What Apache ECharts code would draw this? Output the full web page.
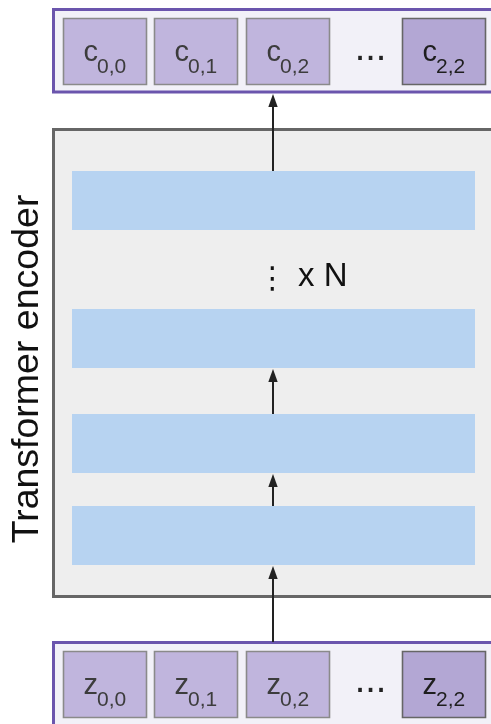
<!DOCTYPE html>
<html><head><meta charset="utf-8">
<script src="https://cdn.jsdelivr.net/npm/echarts@6/dist/echarts.min.js"></script>
<style>html,body{margin:0;padding:0;background:#fff}#c{width:491px;height:724px}</style>
</head><body><div id="c"></div>
<script>
// ---- diagram content ----
const outputLetter = 'c';
const inputLetter = 'z';
const tokenSubscripts = ['0,0', '0,1', '0,2', '2,2'];
const tokenIsLast = [false, false, false, true];
const ellipsisText = '...';
const encoderTitle = 'Transformer encoder';
const repeatLabel = 'x N';
const layerCount = 4;

// ---- layout (diagram coordinate space = pixels) ----
const W = 491, H = 724;
const tokenLeft = [63, 154, 246, 402];
const tokenW = 84, tokenH = 67;
const outRowTop = 18, inRowTop = 651;
const layerTop = [171, 309, 414, 506];
const layerL = 72, layerR = 475, layerH = 59;
const arrowX = 273;
const arrows = [[642, 566], [506, 474], [414, 369], [171, 94]];
const frames = [
  {r: [53.5, 9.5, 520, 92], stroke: '#6b55ad', fill: '#f2f1f8', lw: 3},
  {r: [53.5, 642.5, 520, 760], stroke: '#6b55ad', fill: '#f2f1f8', lw: 3},
  {r: [53.5, 129.5, 520, 596.5], stroke: '#666666', fill: '#eeeeee', lw: 3}
];
const FONT = '"Liberation Sans", Arial, Helvetica, sans-serif';

const chart = echarts.init(document.getElementById('c'), null, {renderer: 'canvas'});

function rectFrom(api, x0, y0, x1, y1) {
  const p0 = api.coord([x0, y0]), p1 = api.coord([x1, y1]);
  return {x: p0[0], y: p0[1], width: p1[0] - p0[0], height: p1[1] - p0[1]};
}

// token cells data: [left, top, subscriptIndex, rowIsOutput]
const tokenData = [];
[outRowTop, inRowTop].forEach((top, r) => {
  tokenSubscripts.forEach((s, i) => tokenData.push([tokenLeft[i], top, i, r === 0 ? 1 : 0]));
});

const option = {
  animation: false,
  grid: {left: 0, right: 0, top: 0, bottom: 0},
  xAxis: {type: 'value', min: 0, max: W, show: false},
  yAxis: {type: 'value', min: 0, max: H, inverse: true, show: false},
  series: [
    { // frames
      type: 'custom', clip: false, silent: true,
      data: frames.map(f => f.r),
      renderItem: (params, api) => {
        const f = frames[params.dataIndex];
        return {type: 'rect', shape: rectFrom(api, f.r[0], f.r[1], f.r[2], f.r[3]),
          style: {fill: f.fill, stroke: f.stroke, lineWidth: f.lw}};
      }
    },
    { // encoder layers
      type: 'custom', clip: false, silent: true,
      data: layerTop.slice(0, layerCount).map(t => [layerL, t, layerR, t + layerH]),
      renderItem: (params, api) => ({
        type: 'rect',
        shape: rectFrom(api, api.value(0), api.value(1), api.value(2), api.value(3)),
        style: {fill: '#b7d3f1'}
      })
    },
    { // token cells
      type: 'custom', clip: false, silent: true,
      data: tokenData,
      renderItem: (params, api) => {
        const left = api.value(0), top = api.value(1), idx = api.value(2), isOut = api.value(3);
        const last = tokenIsLast[idx];
        const rect = rectFrom(api, left + 0.5, top + 0.5, left + tokenW - 0.5, top + tokenH - 0.5);
        const pL = api.coord([left + 35, top + 35]);
        const pS = api.coord([left + 34, top + 49.7]);
        const col = last ? '#1e1e1e' : '#3c3c3c';
        return {type: 'group', children: [
          {type: 'rect', shape: rect,
            style: {fill: last ? '#b3a7d4' : '#c0b5dd', stroke: last ? '#666666' : '#8a8a8a', lineWidth: 1.6}},
          {type: 'text', style: {text: isOut ? outputLetter : inputLetter, x: pL[0], y: pL[1],
            align: 'right', verticalAlign: 'middle', font: '29px ' + FONT, fill: col}},
          {type: 'text', style: {text: tokenSubscripts[idx], x: pS[0], y: pS[1],
            align: 'left', verticalAlign: 'middle', font: '21px ' + FONT, fill: col}}
        ]};
      }
    },
    { // ellipsis between tokens
      type: 'custom', clip: false, silent: true,
      data: [[370.5, outRowTop + 31.8], [370.5, inRowTop + 30.8]],
      renderItem: (params, api) => {
        const p = api.coord([api.value(0), api.value(1)]);
        return {type: 'text', style: {text: ellipsisText, x: p[0], y: p[1], align: 'center',
          verticalAlign: 'middle', font: '38px ' + FONT, fill: '#222222'}};
      }
    },
    { // arrows
      type: 'custom', clip: false, silent: true,
      data: arrows.map(a => [arrowX, a[0], arrowX, a[1]]),
      renderItem: (params, api) => {
        const p0 = api.coord([api.value(0), api.value(1)]);
        const p1 = api.coord([api.value(2), api.value(3)]);
        const hh = 13, hw = 4.7;
        return {type: 'group', children: [
          {type: 'line', shape: {x1: p0[0], y1: p0[1], x2: p1[0], y2: p1[1] + hh - 1},
            style: {stroke: '#222222', lineWidth: 2}},
          {type: 'polygon', shape: {points: [[p1[0], p1[1]], [p1[0] - hw, p1[1] + hh], [p1[0] + hw, p1[1] + hh]]},
            style: {fill: '#222222'}}
        ]};
      }
    },
    { // labels
      type: 'custom', clip: false, silent: true,
      data: [[27.5, 369, 0], [272.5, 280, 1], [298, 276.6, 2]],
      renderItem: (params, api) => {
        const p = api.coord([api.value(0), api.value(1)]);
        const k = api.value(2);
        if (k === 0) {
          return {type: 'text', x: p[0], y: p[1], rotation: Math.PI / 2,
            style: {text: encoderTitle, x: 0, y: 0, align: 'center', verticalAlign: 'middle',
              font: '37.5px ' + FONT, fill: '#111111'}};
        }
        if (k === 1) {
          return {type: 'text', style: {text: '\u22EE', x: p[0], y: p[1], align: 'center',
            verticalAlign: 'middle', font: '30px "DejaVu Sans", sans-serif', fill: '#111111'}};
        }
        return {type: 'text', style: {text: repeatLabel, x: p[0], y: p[1], align: 'left',
          verticalAlign: 'middle', font: '33px ' + FONT, fill: '#111111'}};
      }
    }
  ]
};
chart.setOption(option);
</script>
</body></html>
